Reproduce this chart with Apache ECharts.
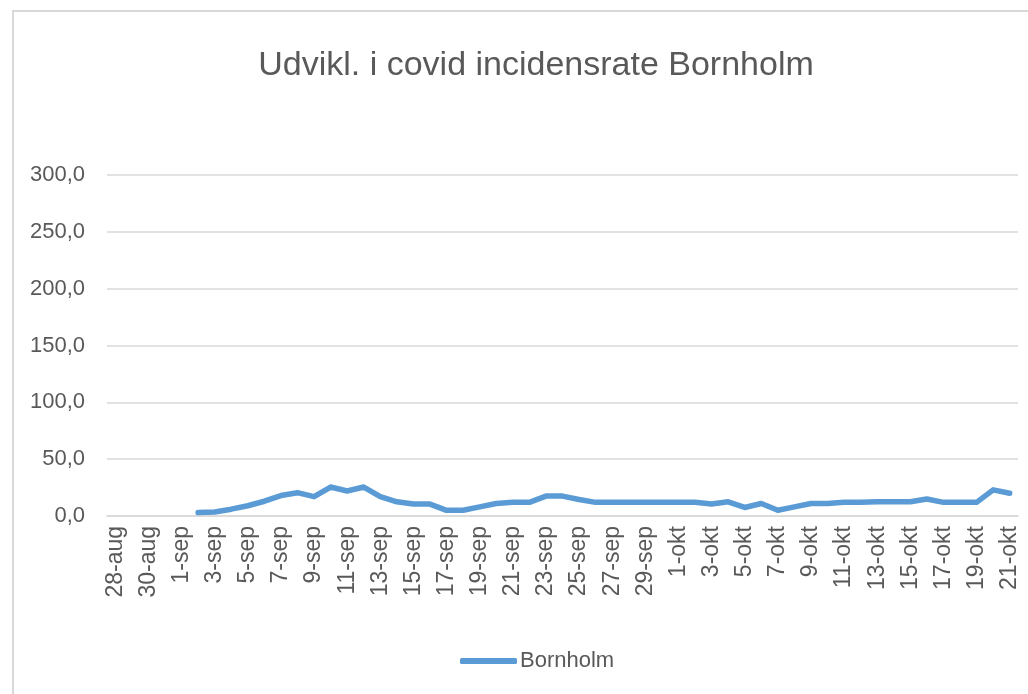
<!DOCTYPE html>
<html>
<head>
<meta charset="utf-8">
<script src="https://cdn.jsdelivr.net/npm/echarts@6/dist/echarts.min.js"></script>
<style>
html,body{margin:0;padding:0;background:#fff;}
#chart{width:1028px;height:694px;}
</style>
</head>
<body>
<div id="chart"></div>
<script>
const titleText = 'Udvikl. i covid incidensrate Bornholm';
const seriesName = 'Bornholm';
const categories = [
  '28-aug','29-aug','30-aug','31-aug',
  '1-sep','2-sep','3-sep','4-sep','5-sep','6-sep','7-sep','8-sep','9-sep','10-sep',
  '11-sep','12-sep','13-sep','14-sep','15-sep','16-sep','17-sep','18-sep','19-sep','20-sep',
  '21-sep','22-sep','23-sep','24-sep','25-sep','26-sep','27-sep','28-sep','29-sep','30-sep',
  '1-okt','2-okt','3-okt','4-okt','5-okt','6-okt','7-okt','8-okt','9-okt','10-okt',
  '11-okt','12-okt','13-okt','14-okt','15-okt','16-okt','17-okt','18-okt','19-okt','20-okt','21-okt'
];
const bornholm = [
  null,null,null,null,
  null,3,3.5,6,9,13,18,20.5,17,25.5,
  22,25.5,17,12.5,10.5,10.5,5,5,8,11,
  12,12,17.5,17.5,14.5,12,12,12,12,12,
  12,12,10.5,12.5,7.5,11,5,8,11,11,
  12,12,12.5,12.5,12.5,15,12,12,12,23,20
];
const yTicks = [0,50,100,150,200,250,300];

const chart = echarts.init(document.getElementById('chart'));
const font = 'Liberation Sans, Arial, sans-serif';
chart.setOption({
  animation: false,
  backgroundColor: '#fff',
  graphic: [{
    type: 'rect',
    shape: {x: 13, y: 11, width: 1100, height: 800},
    style: {fill: 'none', stroke: '#d9d9d9', lineWidth: 2},
    silent: true
  }],
  title: {
    text: titleText,
    left: 531,
    textAlign: 'center',
    top: 44,
    textStyle: {fontFamily: font, fontSize: 34, fontWeight: 'normal', color: '#595959'}
  },
  legend: {
    data: [seriesName],
    left: 455,
    top: 645,
    icon: 'roundRect',
    itemWidth: 57,
    itemHeight: 6,
    itemGap: 4,
    textStyle: {fontFamily: font, fontSize: 22, color: '#595959', padding: [0,0,0,-2]}
  },
  grid: {left: 107, right: 10, top: 175, bottom: 178, containLabel: false},
  xAxis: {
    type: 'category',
    data: categories,
    boundaryGap: true,
    axisLine: {show: true, lineStyle: {color: '#d9d9d9', width: 1.5}},
    axisTick: {show: false},
    axisLabel: {
      interval: 1,
      rotate: 90,
      margin: 10,
      fontFamily: font,
      fontSize: 23,
      color: '#595959'
    },
    splitLine: {show: false}
  },
  yAxis: {
    type: 'value',
    min: yTicks[0],
    max: yTicks[yTicks.length - 1],
    interval: yTicks[1] - yTicks[0],
    axisLine: {show: false},
    axisTick: {show: false},
    axisLabel: {
      margin: 22,
      fontFamily: font,
      fontSize: 22,
      color: '#595959',
      formatter: v => v.toFixed(1).replace('.', ',')
    },
    splitLine: {show: true, lineStyle: {color: '#d9d9d9', width: 1.5}}
  },
  series: [{
    name: seriesName,
    type: 'line',
    data: bornholm,
    symbol: 'none',
    connectNulls: false,
    lineStyle: {color: '#5b9bd5', width: 5.5, cap: 'round', join: 'round'},
    itemStyle: {color: '#5b9bd5'}
  }]
});
</script>
</body>
</html>
